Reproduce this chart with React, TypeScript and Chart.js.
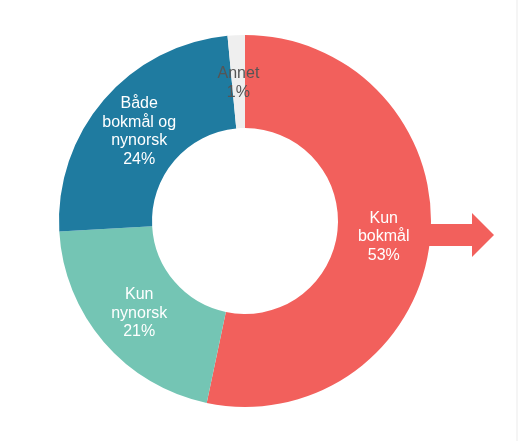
import { useEffect, useRef } from "react";
import { Chart, registerables } from "chart.js";

Chart.register(...registerables);

// data
const categories = ["Kun bokmål", "Kun nynorsk", "Både bokmål og nynorsk", "Annet"];
const shares = [53.3, 20.8, 24.4, 1.5];
const labelLines = [
  ["Kun", "bokmål", "53%"],
  ["Kun", "nynorsk", "21%"],
  ["Både", "bokmål og", "nynorsk", "24%"],
  ["Annet", "1%"],
];
const sliceColors = ["#f2605c", "#74c5b4", "#1f7ba0", "#efefef"];
const labelColors = ["#ffffff", "#ffffff", "#ffffff", "#555555"];

const sliceLabels = {
  id: "sliceLabels",
  afterDatasetsDraw(chart: any) {
    const ctx = chart.ctx;
    const meta = chart.getDatasetMeta(0);
    ctx.save();
    ctx.font = "16px 'Liberation Sans', Arial, sans-serif";
    ctx.textAlign = "center";
    ctx.textBaseline = "middle";
    meta.data.forEach((arc: any, i: number) => {
      const p = arc.tooltipPosition();
      const lines = labelLines[i];
      const lh = 18.5;
      const top = p.y + 1.5 - ((lines.length - 1) * lh) / 2;
      ctx.fillStyle = labelColors[i];
      lines.forEach((t, j) => ctx.fillText(t, p.x, top + j * lh));
    });
    ctx.restore();
  },
};

const arrow = {
  id: "arrow",
  afterDatasetsDraw(chart: any) {
    const { ctx, chartArea } = chart;
    const cy = (chartArea.top + chartArea.bottom) / 2 + 14;
    const x0 = chartArea.right - 3;
    const x1 = chartArea.right + 41;
    const x2 = chartArea.right + 63;
    ctx.save();
    ctx.fillStyle = sliceColors[0];
    ctx.beginPath();
    ctx.moveTo(x0, cy - 11);
    ctx.lineTo(x1, cy - 11);
    ctx.lineTo(x1, cy - 22);
    ctx.lineTo(x2, cy);
    ctx.lineTo(x1, cy + 22);
    ctx.lineTo(x1, cy + 11);
    ctx.lineTo(x0, cy + 11);
    ctx.closePath();
    ctx.fill();
    ctx.restore();
  },
};

const App = () => {
  const chartRef = useRef<HTMLCanvasElement | null>(null);
  const chartInstance = useRef<Chart<"doughnut"> | null>(null);

  useEffect(() => {
    if (chartInstance.current) {
      chartInstance.current.destroy();
    }
    const ctx: any = chartRef.current?.getContext("2d");
    chartInstance.current = new Chart(ctx, {
      type: "doughnut",
      data: {
        labels: categories,
        datasets: [
          {
            data: shares,
            backgroundColor: sliceColors,
            borderWidth: 0,
          },
        ],
      },
      options: {
        animation: false,
        responsive: false,
        cutout: "50%",
        layout: { padding: { left: 59, right: 100, top: 35, bottom: 34 } },
        plugins: {
          legend: { display: false },
          tooltip: { enabled: false },
        },
      },
      plugins: [arrow, sliceLabels],
    });
    return () => {
      if (chartInstance.current) {
        chartInstance.current.destroy();
      }
    };
  }, []);

  return (
    <div style={{ position: "absolute", left: 0, top: 0, width: 531, height: 441, background: "#fff" }}>
      <canvas ref={chartRef} width={531} height={441} style={{ width: "531px", height: "441px" }}></canvas>
      <div style={{ position: "absolute", left: 516, top: 0, width: 2, height: 441, background: "#f5f5f5" }}></div>
    </div>
  );
};

export default App;
